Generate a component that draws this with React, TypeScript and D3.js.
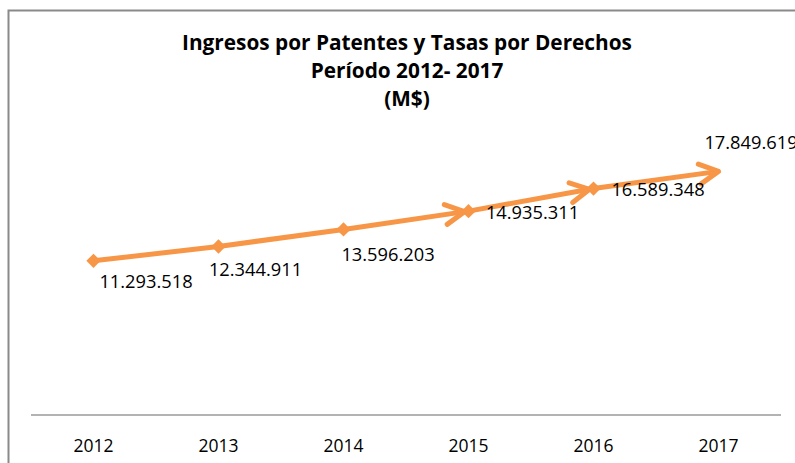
import React from "react";
import * as d3 from "d3";

const years: string[] = ["2012", "2013", "2014", "2015", "2016", "2017"];
const values: number[] = [11293518, 12344911, 13596203, 14935311, 16589348, 17849619];
const valueLabels: string[] = ["11.293.518", "12.344.911", "13.596.203", "14.935.311", "16.589.348", "17.849.619"];
const titleLines: string[] = ["Ingresos por Patentes y Tasas por Derechos", "Período 2012- 2017", "(M$)"];

// layout: manual label offsets (dx from point center to label center, dy to baseline)
const labelDx = [52.5, 37, 44.5, 64, 64.5, 32.5];
const labelDy = [27, 29.4, 31.5, 7.7, 7.3, -22.5];
const arrowAt = [false, false, false, true, true, true];
const titleBaselines = [50, 78, 106];

const W = 795;
const H = 463;
const ORANGE = "#F79646";
const FONT = "'Open Sans', 'Liberation Sans', Arial, sans-serif";

export default function App() {
  const x = d3.scaleBand<string>().domain(years).range([31, 781]).padding(0);
  const y = d3.scaleLinear().domain([0, 20000000]).range([415, 142]);
  const cx = (i: number) => (x(years[i]) as number) + x.bandwidth() / 2;
  const cy = (i: number) => y(values[i]);

  const line = d3.line<number>().x((d, i) => cx(i)).y((d) => y(d));
  const pathD = line(values) || "";

  const diamond = d3.symbol().type(d3.symbolDiamond2).size(130)() || "";

  const arrows = values.map((v, i) => {
    if (!arrowAt[i] || i === 0) return null;
    const x0 = cx(i - 1), y0 = cy(i - 1), x1 = cx(i), y1 = cy(i);
    const len = Math.hypot(x1 - x0, y1 - y0);
    const ux = (x1 - x0) / len, uy = (y1 - y0) / len;
    const back = i === values.length - 1 ? 0 : 4;
    const tx = x1 - ux * back, ty = y1 - uy * back;
    const L = 19, Wd = 10;
    const bx = tx - ux * L, by = ty - uy * L;
    const px = -uy, py = ux;
    return `M${bx + px * Wd},${by + py * Wd}L${tx},${ty}L${bx - px * Wd},${by - py * Wd}`;
  });

  return (
    <svg width={W} height={H} style={{ position: "absolute", left: 0, top: 0, background: "#fff" }}>
      <rect x={8.5} y={10.5} width={W + 20} height={H + 20} fill="#fff" stroke="#8a8a8a" strokeWidth={2} />
      {titleLines.map((t, i) => (
        <text key={t} x={407} y={titleBaselines[i]} textAnchor="middle" fontFamily={FONT} fontWeight="bold" fontSize={20.8} fill="#000">
          {t}
        </text>
      ))}
      <line x1={x.range()[0]} x2={x.range()[1]} y1={y(0)} y2={y(0)} stroke="#9a9a9a" strokeWidth={1.5} />
      {years.map((yr, i) => (
        <text key={yr} x={cx(i)} y={452} textAnchor="middle" fontFamily={FONT} fontSize={17.5} fill="#000">
          {yr}
        </text>
      ))}
      <path d={pathD} fill="none" stroke={ORANGE} strokeWidth={5} strokeLinejoin="round" />
      {arrows.map((a, i) => a && (
        <path key={"a" + i} d={a} fill="none" stroke={ORANGE} strokeWidth={5} strokeLinecap="round" strokeLinejoin="round" />
      ))}
      {values.map((v, i) => i < values.length - 1 && (
        <path key={"d" + i} d={diamond} transform={`translate(${cx(i)},${cy(i)})`} fill={ORANGE} />
      ))}
      {valueLabels.map((l, i) => (
        <text key={l} x={cx(i) + labelDx[i]} y={cy(i) + labelDy[i]} textAnchor="middle" fontFamily={FONT} fontSize={18.3} fill="#000">
          {l}
        </text>
      ))}
    </svg>
  );
}
